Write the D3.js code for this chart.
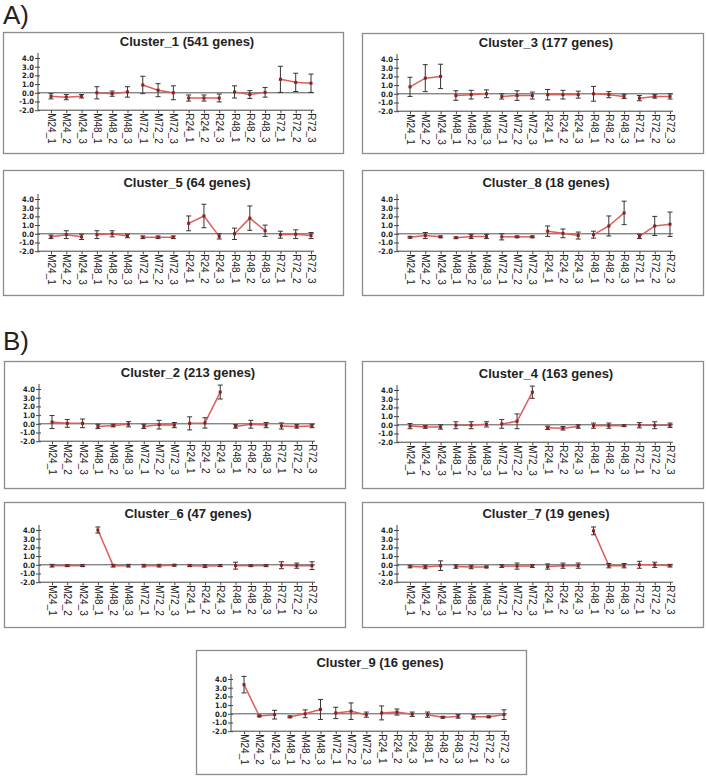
<!DOCTYPE html>
<html>
<head>
<meta charset="utf-8">
<script src="https://cdn.jsdelivr.net/npm/d3@7"></script>
<style>
  html, body { margin: 0; padding: 0; background: #fff; }
  svg { display: block; }
</style>
</head>
<body>
<svg id="chart" width="706" height="778"></svg>
<script>
// ---------- DATA ----------
const categories = ["M24_1","M24_2","M24_3","M48_1","M48_2","M48_3","M72_1","M72_2","M72_3",
                    "R24_1","R24_2","R24_3","R48_1","R48_2","R48_3","R72_1","R72_2","R72_3"];
const yTickValues = [4, 3, 2, 1, 0, -1, -2];
const yTickLabels = ["4.0","3.0","2.0","1.0","0.0","-1.0","-2.0"];
const groupSize = 3;

const c1Title = "Cluster_1 (541 genes)";
const c1Mean = [-0.4,-0.5,-0.4, 0.0,-0.1,0.1, 0.9,0.3,0.0, -0.6,-0.6,-0.6, 0.1,-0.2,0.05, 1.55,1.2,1.1];
const c1Err  = [0.3,0.3,0.2, 0.7,0.3,0.6, 1.0,0.75,0.8, 0.35,0.35,0.45, 0.7,0.45,0.55, 1.5,1.05,1.05];

const c3Title = "Cluster_3 (177 genes)";
const c3Mean = [0.8,1.8,2.0, -0.2,-0.1,0.0, -0.3,-0.2,-0.2, -0.1,-0.1,-0.1, 0.0,-0.1,-0.3, -0.5,-0.3,-0.3];
const c3Err  = [1.1,1.55,1.4, 0.55,0.5,0.45, 0.3,0.55,0.4, 0.6,0.5,0.4, 0.85,0.35,0.25, 0.3,0.2,0.3];

const c5Title = "Cluster_5 (64 genes)";
const c5Mean = [-0.35,-0.1,-0.35, -0.1,0.0,-0.25, -0.4,-0.4,-0.4, 1.2,2.05,-0.3, 0.0,1.8,0.35, -0.1,-0.05,-0.2];
const c5Err  = [0.2,0.45,0.3, 0.45,0.35,0.2, 0.15,0.15,0.15, 0.85,1.35,0.3, 0.65,1.4,0.65, 0.4,0.5,0.35];

const c8Title = "Cluster_8 (18 genes)";
const c8Mean = [-0.4,-0.2,-0.35, -0.45,-0.3,-0.3, -0.35,-0.35,-0.35, 0.3,0.05,-0.2, -0.1,0.9,2.4, -0.3,0.9,1.1];
const c8Err  = [0.1,0.35,0.1, 0.1,0.25,0.25, 0.35,0.1,0.1, 0.6,0.5,0.4, 0.4,1.15,1.35, 0.25,1.1,1.4];

const c2Title = "Cluster_2 (213 genes)";
const c2Mean = [0.2,0.05,0.05, -0.3,-0.2,-0.05, -0.3,-0.1,-0.15, 0.05,0.1,3.65, -0.3,-0.05,-0.15, -0.25,-0.3,-0.25];
const c2Err  = [0.75,0.45,0.5, 0.25,0.15,0.3, 0.25,0.5,0.3, 0.75,0.6,0.8, 0.2,0.45,0.3, 0.35,0.2,0.2];

const c4Title = "Cluster_4 (163 genes)";
const c4Mean = [-0.15,-0.25,-0.25, -0.05,-0.05,0.05, 0.1,0.4,3.75, -0.35,-0.4,-0.2, -0.1,-0.1,-0.1, -0.05,-0.05,-0.05];
const c4Err  = [0.3,0.15,0.25, 0.4,0.4,0.3, 0.5,0.85,0.7, 0.2,0.2,0.2, 0.3,0.3,0.1, 0.3,0.4,0.25];

const c6Title = "Cluster_6 (47 genes)";
const c6Mean = [-0.1,-0.1,-0.1, 4.0,-0.1,-0.1, -0.1,-0.1,-0.05, -0.1,-0.15,-0.1, -0.1,-0.1,-0.1, -0.05,-0.1,-0.1];
const c6Err  = [0.15,0.1,0.1, 0.35,0.15,0.15, 0.15,0.15,0.1, 0.1,0.15,0.1, 0.4,0.1,0.1, 0.4,0.3,0.45];

const c7Title = "Cluster_7 (19 genes)";
const c7Mean = [-0.2,-0.25,-0.1, -0.2,-0.25,-0.25, -0.15,-0.15,-0.15, -0.2,-0.1,-0.1, 3.9,-0.1,-0.1, 0.0,0.0,-0.1];
const c7Err  = [0.15,0.2,0.55, 0.2,0.2,0.1, 0.15,0.35,0.15, 0.3,0.3,0.3, 0.45,0.25,0.25, 0.4,0.3,0.15];

const c9Title = "Cluster_9 (16 genes)";
const c9Mean = [3.35,-0.25,-0.1, -0.35,0.0,0.5, 0.1,0.3,-0.1, 0.1,0.2,-0.05, -0.1,-0.4,-0.3, -0.35,-0.35,-0.1];
const c9Err  = [0.95,0.1,0.5, 0.1,0.45,1.15, 0.65,0.95,0.3, 0.8,0.35,0.25, 0.3,0.1,0.2, 0.25,0.1,0.55];

const sectionLabels = ["A)", "B)"];

// ---------- LAYOUT ----------
const panels = [
  {title: c1Title, mean: c1Mean, err: c1Err, x: 3,   y: 32,  w: 340, h: 121, y4: 58},
  {title: c3Title, mean: c3Mean, err: c3Err, x: 362, y: 33,  w: 341, h: 120, y4: 59},
  {title: c5Title, mean: c5Mean, err: c5Err, x: 3,   y: 170, w: 340, h: 125, y4: 199},
  {title: c8Title, mean: c8Mean, err: c8Err, x: 362, y: 170, w: 341, h: 125, y4: 199},
  {title: c2Title, mean: c2Mean, err: c2Err, x: 4,   y: 361, w: 341, h: 127, y4: 389},
  {title: c4Title, mean: c4Mean, err: c4Err, x: 362, y: 361, w: 341, h: 127, y4: 390},
  {title: c6Title, mean: c6Mean, err: c6Err, x: 4,   y: 502, w: 341, h: 125, y4: 530},
  {title: c7Title, mean: c7Mean, err: c7Err, x: 362, y: 502, w: 341, h: 125, y4: 530},
  {title: c9Title, mean: c9Mean, err: c9Err, x: 196, y: 650, w: 330, h: 124, y4: 679}
];

const svg = d3.select("#chart");
const unit = 8.7;

svg.append("text").attr("x", 3).attr("y", 24)
  .attr("font-family", "Liberation Sans, Arial, sans-serif").attr("font-size", 26)
  .attr("fill", "#222").text(sectionLabels[0]);
svg.append("text").attr("x", 3).attr("y", 350)
  .attr("font-family", "Liberation Sans, Arial, sans-serif").attr("font-size", 26)
  .attr("fill", "#222").text(sectionLabels[1]);

panels.forEach(p => {
  const g = svg.append("g");
  g.append("rect").attr("x", p.x + 0.5).attr("y", p.y + 0.5)
    .attr("width", p.w).attr("height", p.h)
    .attr("fill", "#fff").attr("stroke", "#8c8c8c").attr("stroke-width", 1.3);

  g.append("text").attr("x", p.x + 184).attr("y", p.y4 - 12)
    .attr("text-anchor", "middle")
    .attr("font-family", "Liberation Sans, Arial, sans-serif")
    .attr("font-weight", "bold").attr("font-size", 13).attr("fill", "#222")
    .text(p.title);

  const axX = p.x + 35;
  const endX = p.x + 311;
  const x = d3.scalePoint().domain(categories).range([p.x + 48, p.x + 308]);
  const y = d3.scaleLinear().domain([-2, 4]).range([p.y4 + 6 * unit, p.y4]);

  // y axis
  const yAxis = d3.axisLeft(y).tickValues(yTickValues)
    .tickFormat((d, i) => yTickLabels[i]).tickSize(3).tickPadding(1);
  const ya = g.append("g").attr("transform", `translate(${axX},0)`).call(yAxis);
  ya.select(".domain").attr("d", `M0,${y(4) - 5}V${y(-2)}`).attr("stroke", "#444");
  ya.selectAll(".tick line").attr("x2", -3).attr("x1", 2).attr("stroke", "#444");
  ya.selectAll(".tick text")
    .attr("font-family", "Liberation Sans Narrow, Arial Narrow, DejaVu Sans Condensed, sans-serif")
    .attr("font-weight", "bold").attr("font-size", 7.5).attr("fill", "#222");

  // bottom axis at -2
  const xAxis = d3.axisBottom(x).tickSize(3).tickFormat("");
  const xa = g.append("g").attr("transform", `translate(0,${y(-2)})`).call(xAxis);
  xa.select(".domain").attr("d", `M${axX},0H${endX}`).attr("stroke", "#444");
  xa.selectAll(".tick line").attr("stroke", "#444");
  xa.selectAll(".tick").append("text")
    .attr("transform", "rotate(90)")
    .attr("x", 3).attr("y", 0).attr("dy", "0.35em")
    .attr("text-anchor", "start")
    .attr("font-family", "Liberation Sans, Arial, sans-serif")
    .attr("font-size", 10).attr("fill", "#222")
    .text(d => d);

  // zero line
  g.append("line").attr("x1", axX).attr("x2", endX)
    .attr("y1", y(0)).attr("y2", y(0))
    .attr("stroke", "#555").attr("stroke-width", 1);

  const pts = categories.map((c, i) => ({c, m: p.mean[i], e: p.err[i], grp: Math.floor(i / groupSize)}));

  // lines per replicate group
  const line = d3.line().x(d => x(d.c)).y(d => y(d.m));
  const groups = d3.groups(pts, d => d.grp);
  g.selectAll("path.series").data(groups).join("path")
    .attr("class", "series")
    .attr("d", d => line(d[1]))
    .attr("fill", "none").attr("stroke", "#d9605e").attr("stroke-width", 1.5);

  // error bars
  const eb = g.selectAll("g.eb").data(pts).join("g").attr("class", "eb");
  eb.append("line").attr("x1", d => x(d.c)).attr("x2", d => x(d.c))
    .attr("y1", d => y(d.m + d.e)).attr("y2", d => y(d.m - d.e))
    .attr("stroke", "#333").attr("stroke-width", 1);
  eb.append("line").attr("x1", d => x(d.c) - 2.5).attr("x2", d => x(d.c) + 2.5)
    .attr("y1", d => y(d.m + d.e)).attr("y2", d => y(d.m + d.e))
    .attr("stroke", "#333").attr("stroke-width", 1);
  eb.append("line").attr("x1", d => x(d.c) - 2.5).attr("x2", d => x(d.c) + 2.5)
    .attr("y1", d => y(d.m - d.e)).attr("y2", d => y(d.m - d.e))
    .attr("stroke", "#333").attr("stroke-width", 1);

  // markers
  g.selectAll("rect.pt").data(pts).join("rect").attr("class", "pt")
    .attr("x", d => x(d.c) - 1.5).attr("y", d => y(d.m) - 1.5)
    .attr("width", 3).attr("height", 3).attr("fill", "#8e1f1f");
});
</script>
</body>
</html>
